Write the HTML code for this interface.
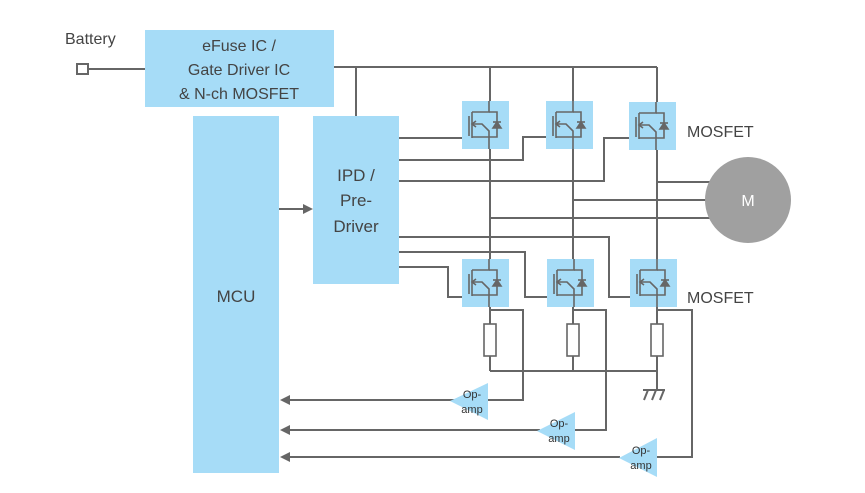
<!DOCTYPE html>
<html><head><meta charset="utf-8"><style>
body{margin:0;background:#fff}
svg{display:block;font-family:"Liberation Sans",sans-serif}
</style></head><body>
<svg width="865" height="493" viewBox="0 0 865 493" xmlns="http://www.w3.org/2000/svg">
<defs>
<g id="mos">
<rect x="0" y="0" width="47" height="48" fill="#a6dcf7"/>
<g stroke="#666" stroke-width="1.6" fill="none">
<line x1="7" y1="15" x2="7" y2="35"/>
<line x1="10" y1="11" x2="10" y2="37"/>
<polyline points="10,11 27,11 27,0"/>
<polyline points="27,11 35,11 35,36 27,36"/>
<polyline points="10,36 27,36 27,48"/>
<polyline points="10,23 20,23 27,30 27,36"/>
<polyline points="14,20 10,23 14,26"/>
<polygon points="31,27 39,27 35,21" fill="#666"/>
<line x1="31" y1="21" x2="39" y2="21"/>
</g>
</g>
</defs>
<g stroke="#666" stroke-width="2" fill="none">
<!-- battery -->
<rect x="77" y="64" width="11" height="10" fill="#fff"/>
<line x1="88" y1="69" x2="146" y2="69"/>
<!-- rail -->
<line x1="333" y1="67" x2="657" y2="67"/>
<line x1="356" y1="67" x2="356" y2="117"/>
<line x1="490" y1="67" x2="490" y2="310"/>
<line x1="573" y1="67" x2="573" y2="310"/>
<line x1="657" y1="67" x2="657" y2="390"/>
<!-- top gates -->
<line x1="398" y1="138" x2="470" y2="138"/>
<polyline points="398,160 523,160 523,137 552,137"/>
<polyline points="398,181 604,181 604,138 634,138"/>
<!-- motor lines -->
<line x1="657" y1="182" x2="710" y2="182"/>
<line x1="573" y1="200" x2="710" y2="200"/>
<line x1="490" y1="218" x2="710" y2="218"/>
<!-- bottom gates -->
<polyline points="398,237 609,237 609,297 634,297"/>
<polyline points="398,252 525,252 525,297 552,297"/>
<polyline points="398,267 448,267 448,297 470,297"/>
<!-- resistors and sense -->
<line x1="490" y1="310" x2="490" y2="371"/>
<line x1="573" y1="310" x2="573" y2="371"/>
<line x1="490" y1="371" x2="657" y2="371"/>
<polyline points="490,310 523,310 523,400 470,400"/>
<polyline points="573,310 606,310 606,430 560,430"/>
<polyline points="657,310 692,310 692,457 640,457"/>
<line x1="289" y1="400" x2="460" y2="400"/>
<line x1="289" y1="430" x2="540" y2="430"/>
<line x1="289" y1="457" x2="620" y2="457"/>
<!-- ground -->
<line x1="643" y1="390" x2="665" y2="390"/>
<line x1="648" y1="390" x2="644" y2="400"/>
<line x1="656" y1="390" x2="652" y2="400"/>
<line x1="664" y1="390" x2="660" y2="400"/>
<!-- arrow mcu->ipd -->
<line x1="279" y1="209" x2="303" y2="209"/>
</g>
<g fill="#fff" stroke="#666" stroke-width="1.6">
<rect x="484" y="324" width="12" height="32"/>
<rect x="567" y="324" width="12" height="32"/>
<rect x="651" y="324" width="12" height="32"/>
</g>
<g fill="#666">
<polygon points="303,204 313,209 303,214"/>
<polygon points="280,400 290,395 290,405"/>
<polygon points="280,430 290,425 290,435"/>
<polygon points="280,457 290,452 290,462"/>
</g>
<!-- blocks -->
<rect x="145" y="30" width="189" height="77" fill="#a6dcf7"/>
<rect x="193" y="116" width="86" height="357" fill="#a6dcf7"/>
<rect x="313" y="116" width="86" height="168" fill="#a6dcf7"/>
<use href="#mos" x="462" y="101"/>
<use href="#mos" x="546" y="101"/>
<use href="#mos" x="629" y="102"/>
<use href="#mos" x="462" y="259"/>
<use href="#mos" x="547" y="259"/>
<use href="#mos" x="630" y="259"/>
<circle cx="748" cy="200" r="43" fill="#a0a0a0"/>
<polygon points="450,401 488,383 488,420" fill="#a6dcf7"/>
<polygon points="537,431 575,412 575,450" fill="#a6dcf7"/>
<polygon points="619,458 657,438 657,477" fill="#a6dcf7"/>
<g fill="#444" font-size="16">
<text x="65" y="44">Battery</text>
<text x="239" y="51" text-anchor="middle">eFuse IC /</text>
<text x="239" y="75" text-anchor="middle">Gate Driver IC</text>
<text x="239" y="99" text-anchor="middle">&amp; N-ch MOSFET</text>
<text x="356" y="181" text-anchor="middle" font-size="17">IPD /</text>
<text x="356" y="206" text-anchor="middle" font-size="17">Pre-</text>
<text x="356" y="232" text-anchor="middle" font-size="17">Driver</text>
<text x="236" y="302" text-anchor="middle" font-size="17">MCU</text>
<text x="687" y="137">MOSFET</text>
<text x="687" y="303">MOSFET</text>
<text x="748" y="206" text-anchor="middle" fill="#fff">M</text>
</g>
<g fill="#333" font-size="11" text-anchor="middle">
<text x="472" y="398">Op-</text><text x="472" y="413">amp</text>
<text x="559" y="427">Op-</text><text x="559" y="442">amp</text>
<text x="641" y="454">Op-</text><text x="641" y="469">amp</text>
</g>
</svg>
</body></html>
